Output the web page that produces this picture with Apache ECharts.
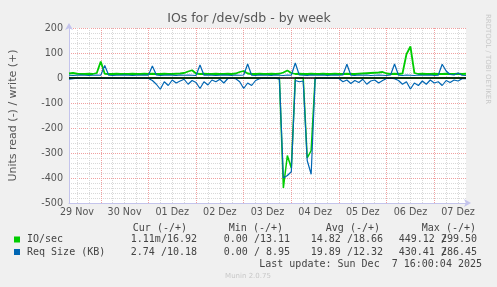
<!DOCTYPE html>
<html><head><meta charset="utf-8">
<script src="https://cdn.jsdelivr.net/npm/echarts@6/dist/echarts.min.js"></script>
<style>html,body{margin:0;padding:0;background:#f0f0f0}#c{width:497px;height:287px}</style>
</head><body><div id="c"></div>
<script>
// sample times: hours since 29 Nov 00:00
const startHour = 8;
const stepHours = 2;
const endHour = 208;
const dayLabels = ['29 Nov','30 Nov','01 Dez','02 Dez','03 Dez','04 Dez','05 Dez','06 Dez','07 Dez'];

// IO/sec write (+)
const ioWrite = [18,20,17,16,16,17,16,20,66,17,
  16,16,17,16,16,16,17,16,16,17,
  16,17,16,16,17,16,16,17,18,20,
  26,31,18,16,17,16,16,17,16,16,
  17,16,18,24,28,18,16,16,17,16,
  16,17,16,17,22,30,20,16,17,16,
  16,17,16,16,17,16,16,17,16,16,
  17,16,16,17,18,19,20,21,22,24,
  18,16,17,16,18,95,126,20,16,17,
  16,16,17,16,16,17,16,16,17,16,
  17];
// IO/sec read (-)
const ioRead = [0,0,0,0,0,0,0,0,0,0,
  0,0,0,0,0,0,0,0,0,0,
  0,0,0,0,0,0,0,0,0,0,
  0,0,0,0,0,0,0,0,0,0,
  0,0,0,0,0,0,0,0,0,0,
  0,0,0,0,440,310,360,0,0,0,
  320,290,0,0,0,0,0,0,0,0,
  0,0,0,0,0,0,0,0,0,0,
  0,0,0,0,0,0,0,0,0,0,
  0,0,0,0,0,0,0,0,0,0,
  0];
// Req Size (KB) write (+)
const reqWrite = [11,10,11,12,11,10,11,12,11,50,
  11,10,11,11,12,11,10,11,11,12,
  11,48,12,10,11,12,11,10,12,11,
  12,11,10,52,11,12,11,10,11,12,
  11,10,12,11,12,56,11,10,12,11,
  11,10,12,11,10,12,11,60,12,11,
  10,12,11,11,12,10,11,12,11,12,
  55,11,10,12,11,12,10,11,12,11,
  10,12,56,11,10,12,11,10,12,11,
  11,12,10,11,55,28,14,12,20,11,
  10];
// Req Size (KB) read (-)
const reqRead = [5,3,1,1,1,1,1,1,1,1,
  1,1,1,1,1,1,1,1,1,1,
  2,10,25,45,15,30,8,20,12,5,
  25,10,18,42,15,28,8,15,5,20,
  2,1,3,15,42,20,30,10,3,1,
  1,1,1,5,400,390,375,10,15,12,
  330,385,3,1,1,1,1,1,2,15,
  8,22,10,18,5,25,12,8,20,10,
  2,1,3,10,25,15,44,20,30,12,
  25,8,20,15,30,10,18,8,12,3,
  3];

const legendNames = ['IO/sec','Req Size (KB)'];
const colHeaders = ['Cur (-/+)','Min (-/+)','Avg (-/+)','Max (-/+)'];
const curValues = ['1.11m/16.92','2.74 /10.18'];
const minValues = ['0.00 /13.11','0.00 / 8.95'];
const avgValues = ['14.82 /18.66','19.89 /12.32'];
const maxValues = ['449.12 /299.50','430.41 /286.45'];
const lastUpdate = 'Last update: Sun Dec  7 16:00:04 2025';
const titleText = 'IOs for /dev/sdb - by week';
const yName = 'Units read (-) / write (+)';
const footer = 'Munin 2.0.75';
const sideText = 'RRDTOOL / TOBI OETIKER';

const GREEN = '#00cc00', BLUE = '#0066b3';
const hours = ioWrite.map((_, i) => startHour + i * stepHours);
const labelHours = dayLabels.map((_, k) => 12 + 24 * k);
const midnights = [], minorHours = [];
for (let h = 0; h <= endHour; h += 6) {
  if (h < startHour) continue;
  if (h % 24 === 0) midnights.push(h); else minorHours.push(h);
}

const MONO = '10px "DejaVu Sans Mono"';
function txt(x, y, text, font, fill, align, extra) {
  return Object.assign({
    type: 'text', x: x, y: y, silent: true,
    style: { text: text, font: font, fill: fill, align: align, verticalAlign: 'middle',
             textAlign: align, textVerticalAlign: 'middle' }
  }, extra || {});
}
const graphics = [];
graphics.push(txt(249, 19, titleText, '12.5px "DejaVu Sans"', '#555', 'center'));
graphics.push(txt(488, 59, sideText, '7px "DejaVu Sans"', '#c8c8c8', 'center', { rotation: -Math.PI / 2 }));
const headerRight = [187, 283, 380, 476];
colHeaders.forEach((h, k) => graphics.push(txt(headerRight[k], 228, h, MONO, '#444', 'right')));
const colRight = [197, 290, 383, 477];
const rowY = [239.5, 252];
const sqColors = [GREEN, BLUE];
legendNames.forEach((n, r) => {
  graphics.push({ type: 'rect', silent: true, shape: { x: 14, y: rowY[r] - 3, width: 6, height: 6 }, style: { fill: sqColors[r] } });
  graphics.push(txt(27, rowY[r], n, MONO, '#444', 'left'));
  graphics.push(txt(colRight[0], rowY[r], curValues[r], MONO, '#444', 'right'));
  graphics.push(txt(colRight[1], rowY[r], minValues[r], MONO, '#444', 'right'));
  graphics.push(txt(colRight[2], rowY[r], avgValues[r], MONO, '#444', 'right'));
  const parts = maxValues[r].split(' /');
  const squeezed = parts[0] + ' ' + parts[1];
  graphics.push(txt(colRight[3], rowY[r], squeezed, MONO, '#444', 'right'));
  const cw = 6.02;
  const slashX = colRight[3] - squeezed.length * cw + (parts[0].length + 1) * cw;
  graphics.push(txt(slashX, rowY[r], '/', MONO, '#444', 'left'));
});
graphics.push(txt(482, 264, lastUpdate, MONO, '#444', 'right'));
graphics.push(txt(248, 276, footer, '7px "DejaVu Sans"', '#c8c8c8', 'center'));

const lineBase = { type: 'line', symbol: 'none', showSymbol: false, animation: false, silent: true, xAxisIndex: 0 };
const chart = echarts.init(document.getElementById('c'), null, { renderer: 'canvas' });
chart.setOption({
  backgroundColor: '#f0f0f0',
  animation: false,
  grid: { left: 66, right: 31, top: 28, bottom: 84, show: true, backgroundColor: '#ffffff', borderWidth: 0 },
  xAxis: [
    { type: 'value', min: startHour, max: endHour, position: 'bottom',
      axisLine: { show: true, onZero: false, symbol: ['none', 'arrow'], symbolSize: [6, 7], symbolOffset: [0, 5], lineStyle: { color: '#c4c4ec', width: 1 } },
      axisTick: { show: false, customValues: midnights },
      splitLine: { show: true, lineStyle: { color: '#f0a0a0', type: 'dotted', width: 1 } },
      axisLabel: { customValues: labelHours, formatter: v => dayLabels[Math.round((v - 12) / 24)], color: '#555', fontSize: 9.6, fontFamily: 'DejaVu Sans', margin: 4 }
    },
    { type: 'value', min: startHour, max: endHour, position: 'top',
      axisLine: { show: false }, axisTick: { show: false, customValues: minorHours }, axisLabel: { show: false },
      splitLine: { show: true, lineStyle: { color: '#d8d8d8', type: 'dotted', width: 1 } }
    }
  ],
  yAxis: {
    type: 'value', min: -500, max: 200, interval: 100,
    name: yName, nameLocation: 'middle', nameGap: 50,
    nameTextStyle: { color: '#555', fontSize: 11, fontFamily: 'DejaVu Sans' },
    axisLine: { show: true, onZero: false, symbol: ['none', 'arrow'], symbolSize: [6, 7], symbolOffset: [0, 5], lineStyle: { color: '#c4c4ec', width: 1 } },
    axisTick: { show: false },
    axisLabel: { color: '#555', fontSize: 9.6, fontFamily: 'DejaVu Sans', margin: 6 },
    splitLine: { show: true, lineStyle: { color: '#f0a0a0', type: 'dotted', width: 1 } },
    minorTick: { show: false, splitNumber: 5 },
    minorSplitLine: { show: true, lineStyle: { color: '#d8d8d8', type: 'dotted', width: 1 } }
  },
  series: [
    Object.assign({}, lineBase, { name: 'io read', data: ioRead.map((v, i) => [hours[i], -v]), lineStyle: { color: GREEN, width: 1.5 }, itemStyle: { color: GREEN } }),
    Object.assign({}, lineBase, { name: 'io write', data: ioWrite.map((v, i) => [hours[i], v]), lineStyle: { color: GREEN, width: 1.8 }, itemStyle: { color: GREEN } }),
    Object.assign({}, lineBase, { name: 'req read', data: reqRead.map((v, i) => [hours[i], -v]), lineStyle: { color: BLUE, width: 1.2 }, itemStyle: { color: BLUE } }),
    Object.assign({}, lineBase, { name: 'req write', data: reqWrite.map((v, i) => [hours[i], v]), lineStyle: { color: BLUE, width: 1.2 }, itemStyle: { color: BLUE },
      markLine: { silent: true, symbol: ['none', 'none'], label: { show: false }, animation: false,
        lineStyle: { color: '#000', type: 'solid', width: 1.5 }, data: [{ yAxis: 0 }] } })
  ],
  graphic: graphics
});
</script></body></html>
